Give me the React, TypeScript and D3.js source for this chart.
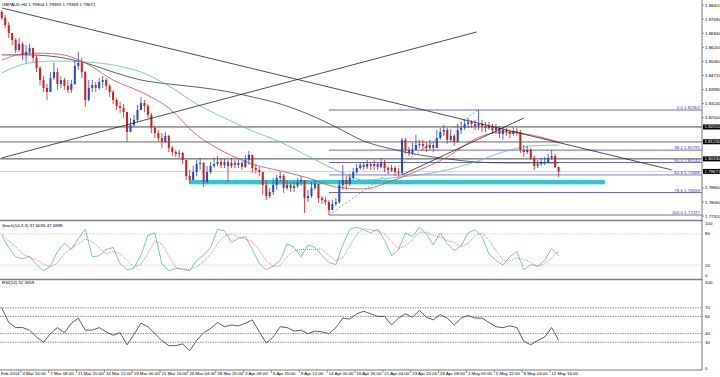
import React from 'react';
import * as d3 from 'd3';

const W = 720;
const H = 377;
const PR = 702;
const SLOTS = 201.7;
const FONT = "'Liberation Sans', Arial, sans-serif";
const FS = 4.4;

const titleText = 'GBPAUD,H4  1.79904 1.79933 1.79369 1.79671';
const stochTitle = 'Stoch(14,3,3) 37.6036 47.3898';
const rsiTitle = 'RSI(14) 32.3659';

const firstOpen = 1.8806;
const closes = [
  1.8774, 1.8737, 1.8695, 1.8659, 1.8606, 1.8638, 1.8580, 1.8596, 1.8617, 1.8564,
  1.8511, 1.8448, 1.8406, 1.8385, 1.8459, 1.8490, 1.8427, 1.8448, 1.8417, 1.8396,
  1.8427, 1.8522, 1.8538, 1.8490, 1.8343, 1.8406, 1.8422, 1.8406, 1.8438, 1.8448,
  1.8417, 1.8385, 1.8343, 1.8311, 1.8301, 1.8280, 1.8175, 1.8211, 1.8238, 1.8290,
  1.8327, 1.8311, 1.8264, 1.8196, 1.8169, 1.8143, 1.8122, 1.8154, 1.8091, 1.8069,
  1.8059, 1.8064, 1.8027, 1.7943, 1.7922, 1.7964, 1.8006, 1.8012, 1.7912, 1.7964,
  1.7996, 1.8006, 1.8017, 1.8001, 1.8017, 1.7996, 1.8012, 1.8001, 1.8012, 1.7991,
  1.8027, 1.8054, 1.7985, 1.7975, 1.7964, 1.7896, 1.7838, 1.7859, 1.7896, 1.7933,
  1.7943, 1.7880, 1.7896, 1.7880, 1.7891, 1.7912, 1.7922, 1.7827, 1.7838, 1.7880,
  1.7901, 1.7827, 1.7817, 1.7806, 1.7764, 1.7796, 1.7806, 1.7896, 1.7922, 1.7901,
  1.7933, 1.7964, 1.7985, 1.8001, 1.7991, 1.8006, 1.7996, 1.8006, 1.7991, 1.8012,
  1.7985, 1.7975, 1.7985, 1.7964, 1.7959, 1.8133, 1.8080, 1.8064, 1.8080, 1.8106,
  1.8112, 1.8101, 1.8091, 1.8106, 1.8091, 1.8143, 1.8175, 1.8185, 1.8133, 1.8154,
  1.8122, 1.8185, 1.8196, 1.8217, 1.8227, 1.8217, 1.8206, 1.8217, 1.8206, 1.8196,
  1.8206, 1.8185, 1.8196, 1.8164, 1.8185, 1.8175, 1.8164, 1.8180, 1.8175, 1.8080,
  1.8069, 1.8080, 1.8038, 1.7996, 1.8006, 1.8017, 1.8017, 1.8038, 1.8048, 1.7990,
  1.7967,
];
const highs = [
  1.8816, 1.8790, 1.8753, 1.8695, 1.8669, 1.8669, 1.8648, 1.8632, 1.8638, 1.8617,
  1.8580, 1.8522, 1.8469, 1.8427, 1.8490, 1.8538, 1.8511, 1.8469, 1.8459, 1.8448,
  1.8448, 1.8553, 1.8596, 1.8564, 1.8495, 1.8448, 1.8448, 1.8438, 1.8459, 1.8469,
  1.8459, 1.8427, 1.8396, 1.8354, 1.8333, 1.8322, 1.8280, 1.8248, 1.8264, 1.8317,
  1.8359, 1.8343, 1.8322, 1.8275, 1.8206, 1.8185, 1.8169, 1.8175, 1.8159, 1.8101,
  1.8080, 1.8080, 1.8069, 1.8027, 1.7975, 1.7996, 1.8027, 1.8038, 1.8015, 1.7996,
  1.8017, 1.8038, 1.8048, 1.8038, 1.8033, 1.8027, 1.8038, 1.8027, 1.8027, 1.8022,
  1.8054, 1.8075, 1.8054, 1.8001, 1.7991, 1.7964, 1.7922, 1.7880, 1.7933, 1.7949,
  1.7964, 1.7954, 1.7922, 1.7912, 1.7912, 1.7933, 1.7943, 1.7922, 1.7870, 1.7912,
  1.7922, 1.7901, 1.7838, 1.7833, 1.7817, 1.7817, 1.7827, 1.7922, 1.8001, 1.7943,
  1.7954, 1.7985, 1.8006, 1.8017, 1.8017, 1.8027, 1.8017, 1.8027, 1.8017, 1.8038,
  1.8027, 1.7996, 1.8001, 1.7996, 1.7985, 1.8143, 1.8143, 1.8096, 1.8117, 1.8159,
  1.8133, 1.8133, 1.8122, 1.8133, 1.8122, 1.8185, 1.8196, 1.8211, 1.8196, 1.8185,
  1.8164, 1.8217, 1.8227, 1.8238, 1.8248, 1.8238, 1.8238, 1.8290, 1.8238, 1.8227,
  1.8227, 1.8217, 1.8217, 1.8206, 1.8196, 1.8196, 1.8185, 1.8196, 1.8196, 1.8185,
  1.8106, 1.8101, 1.8091, 1.8048, 1.8027, 1.8038, 1.8043, 1.8059, 1.8080, 1.8059,
  1.7993,
];
const lows = [
  1.8764, 1.8722, 1.8669, 1.8632, 1.8590, 1.8596, 1.8553, 1.8538, 1.8580, 1.8543,
  1.8490, 1.8422, 1.8385, 1.8343, 1.8385, 1.8448, 1.8396, 1.8406, 1.8396, 1.8380,
  1.8380, 1.8422, 1.8501, 1.8459, 1.8306, 1.8335, 1.8385, 1.8385, 1.8396, 1.8406,
  1.8396, 1.8359, 1.8322, 1.8290, 1.8275, 1.8248, 1.8122, 1.8175, 1.8201, 1.8227,
  1.8290, 1.8280, 1.8248, 1.8169, 1.8143, 1.8122, 1.8091, 1.8117, 1.8069, 1.8048,
  1.8043, 1.8038, 1.8006, 1.7922, 1.7901, 1.7933, 1.7943, 1.7975, 1.7885, 1.7905,
  1.7954, 1.7985, 1.7996, 1.7985, 1.7985, 1.7912, 1.7985, 1.7985, 1.7985, 1.7975,
  1.7985, 1.8001, 1.7959, 1.7954, 1.7943, 1.7843, 1.7817, 1.7827, 1.7843, 1.7870,
  1.7912, 1.7854, 1.7870, 1.7859, 1.7859, 1.7880, 1.7891, 1.7749, 1.7806, 1.7827,
  1.7870, 1.7801, 1.7796, 1.7791, 1.7738, 1.7764, 1.7785, 1.7796, 1.7870, 1.7870,
  1.7891, 1.7922, 1.7954, 1.7975, 1.7975, 1.7980, 1.7975, 1.7975, 1.7975, 1.7985,
  1.7964, 1.7954, 1.7964, 1.7943, 1.7938, 1.7949, 1.8059, 1.8048, 1.8054, 1.8080,
  1.8091, 1.8080, 1.8069, 1.8080, 1.8069, 1.8091, 1.8133, 1.8154, 1.8112, 1.8122,
  1.8101, 1.8117, 1.8164, 1.8185, 1.8196, 1.8196, 1.8185, 1.8185, 1.8175, 1.8175,
  1.8185, 1.8164, 1.8164, 1.8143, 1.8133, 1.8154, 1.8143, 1.8154, 1.8154, 1.8064,
  1.8043, 1.8059, 1.8027, 1.7975, 1.7985, 1.7996, 1.8001, 1.8017, 1.8027, 1.7985,
  1.7937,
];

// moving averages sampled every 8 bars
const maIdx = [0, 8, 16, 24, 32, 40, 48, 56, 64, 72, 80, 88, 96, 104, 112, 120, 128, 136, 144, 152, 160];
const maRed = [1.8553, 1.8590, 1.8585, 1.8538, 1.8448, 1.8385, 1.8301, 1.8159, 1.8069, 1.8006, 1.7970, 1.7933, 1.7885, 1.7875, 1.7917, 1.7975, 1.8043, 1.8138, 1.8175, 1.8159, 1.8122];
const maTeal = [1.8485, 1.8538, 1.8548, 1.8543, 1.8527, 1.8490, 1.8417, 1.8322, 1.8248, 1.8180, 1.8122, 1.8048, 1.7975, 1.7922, 1.7933, 1.7949, 1.7975, 1.8017, 1.8069, 1.8101, 1.8106];
const maDark = [1.8580, 1.8580, 1.8569, 1.8538, 1.8490, 1.8448, 1.8427, 1.8411, 1.8390, 1.8359, 1.8322, 1.8269, 1.8201, 1.8127, 1.8085, 1.8054, 1.8033, 1.8017, 1.8012, 1.8012, 1.8012];

// trend lines [startIdx, startPrice, endIdx, endPrice]
const trendLines = [
  [0, 1.8827, 192.5, 1.7975],
  [0, 1.8038, 136.5, 1.8701],
  [115, 1.7949, 150, 1.8248],
];

// horizontal lines
const blackLevels = [1.8201, 1.8033];
const grayLevel = 1.8123;
const bidPrice = 1.79671;

// fibonacci
const fibHigh = 1.82902;
const fibLow = 1.77377;
const fibLowIdx = 94;
const fibHighIdx = 137;
const fibLevels = [0, 38.2, 50, 61.8, 78.6, 100];

// support zone
const zoneStartIdx = 54;
const zoneEndIdx = 173.3;
const zoneTop = 1.7922;
const zoneBottom = 1.7899;

const priceTicks = [1.7732, 1.7806, 1.7880, 1.7954, 1.8028, 1.8102, 1.8176, 1.8250, 1.8324, 1.8398, 1.8472, 1.8546, 1.8620, 1.8694, 1.8768, 1.8842];

const timeLabels = ['4 Mar 16:00', '7 Mar 08:00', '11 Mar 20:00', '14 Mar 12:00', '19 Mar 00:00', '21 Mar 16:00', '26 Mar 04:00', '28 Mar 20:00', '2 Apr 08:00', '6 Apr 20:00', '9 Apr 12:00', '14 Apr 00:00', '16 Apr 16:00', '21 Apr 04:00', '23 Apr 20:00', '28 Apr 08:00', '1 May 00:00', '5 May 12:00', '8 May 04:00', '12 May 16:00'];
const firstTimeLabel = 'Feb 2014';

// oscillators sampled every 2 bars
const stochMain = [77, 54, 36, 32, 37, 21, 9, 18, 46, 62, 50, 71, 89, 36, 38, 50, 54, 23, 11, 14, 39, 77, 82, 23, 9, 14, 12, 9, 29, 39, 54, 89, 86, 64, 71, 75, 50, 23, 11, 18, 29, 61, 54, 36, 59, 54, 39, 25, 21, 59, 89, 93, 88, 82, 89, 68, 38, 50, 82, 75, 93, 80, 59, 82, 61, 48, 57, 82, 88, 75, 41, 29, 20, 36, 46, 11, 21, 18, 29, 52, 37.6];
const stochSignal = [80, 66, 56, 41, 35, 30, 22, 16, 24, 42, 53, 61, 70, 65, 54, 41, 47, 42, 29, 16, 21, 43, 66, 61, 38, 15, 12, 12, 17, 26, 41, 61, 76, 80, 74, 70, 65, 49, 28, 17, 19, 36, 48, 50, 50, 50, 51, 39, 28, 35, 56, 80, 90, 88, 86, 80, 65, 52, 57, 69, 83, 83, 77, 74, 67, 64, 55, 62, 76, 82, 68, 48, 30, 28, 34, 31, 26, 17, 23, 33, 47.4];
const rsi = [70, 53, 47, 47, 44, 36, 30, 40, 47, 41, 52, 58, 44, 44, 47, 42, 38, 41, 27, 39, 52, 48, 40, 32, 26, 26, 28, 20, 32, 41, 46, 53, 48, 50, 49, 52, 56, 42, 29, 36, 48, 47, 43, 44, 40, 43, 42, 40, 47, 58, 57, 63, 66, 63, 60, 60, 50, 58, 63, 59, 67, 59, 56, 62, 58, 50, 58, 61, 58, 58, 53, 48, 47, 49, 47, 31, 27, 32, 36, 47, 32.4];
const stochLevels = [80, 20];
const rsiLevels = [70, 60, 40, 30];

export default function App() {
  const x = d3.scaleLinear().domain([0, SLOTS]).range([0, PR]);
  const yP = d3.scaleLinear().domain([1.77114, 1.8869]).range([220, 0]);
  const yS = d3.scaleLinear().domain([0, 100]).range([275.5, 223.5]);
  const yR = d3.scaleLinear().domain([0, 100]).range([368, 282]);
  const cx = (i: number) => x(i + 0.5);

  const maLine = d3.line<number>()
    .x((_, k) => cx(maIdx[k]))
    .y((d) => yP(d))
    .curve(d3.curveMonotoneX);
  const oscLine = (scale: d3.ScaleLinear<number, number>) =>
    d3.line<number>().x((_, k) => cx(k * 2)).y((d) => scale(d));

  const candles = closes.map((c, i) => {
    const o = i === 0 ? firstOpen : closes[i - 1];
    const h = Math.max(highs[i], o, c);
    const l = Math.min(lows[i], o, c);
    return { i, o, c, h, l };
  });

  const fibX0 = cx(fibLowIdx);
  const fibPrice = (lv: number) => fibHigh - (fibHigh - fibLow) * lv / 100;

  const marked = [...blackLevels, grayLevel, bidPrice];
  const visibleTicks = priceTicks.filter((p) => marked.every((m) => Math.abs(yP(p) - yP(m)) > 5.5));

  const txt = (props: any, s: string) => (
    <text fontFamily={FONT} fontSize={FS} {...props}>{s}</text>
  );

  return (
    <svg width={W} height={H} style={{ position: 'absolute', left: 0, top: 0, background: '#fff' }}>
      <rect x={0} y={0} width={W} height={H} fill="#fff" />
      {/* support zone */}
      <rect x={cx(zoneStartIdx)} y={yP(zoneTop)} width={cx(zoneEndIdx) - cx(zoneStartIdx)}
        height={yP(zoneBottom) - yP(zoneTop)} fill="#2ec8cc" />
      {/* horizontal lines */}
      {blackLevels.map((p, k) => (
        <line key={'bl' + k} x1={0} x2={PR} y1={yP(p)} y2={yP(p)} stroke="#333" strokeWidth={0.9} />
      ))}
      <line x1={0} x2={PR} y1={yP(grayLevel)} y2={yP(grayLevel)} stroke="#a8a8a8" strokeWidth={1.8} />
      <line x1={0} x2={PR} y1={yP(bidPrice)} y2={yP(bidPrice)} stroke="#c8c8c8" strokeWidth={0.8} />
      {/* fib levels */}
      {fibLevels.map((lv) => (
        <line key={'f' + lv} x1={fibX0} x2={PR} y1={yP(fibPrice(lv))} y2={yP(fibPrice(lv))}
          stroke={lv === 61.8 ? '#b4b4e4' : '#5a5aa8'} strokeWidth={lv === 61.8 ? 1.8 : 0.9} />
      ))}
      <line x1={cx(fibLowIdx)} y1={yP(fibLow)} x2={cx(fibHighIdx)} y2={yP(fibHigh)}
        stroke="#777" strokeWidth={0.7} strokeDasharray="2,2" />
      {/* moving averages */}
      <path d={maLine(maDark) || ''} fill="none" stroke="#3a3a3a" strokeWidth={0.8} />
      <path d={maLine(maTeal) || ''} fill="none" stroke="#5fb8c0" strokeWidth={0.8} />
      <path d={maLine(maRed) || ''} fill="none" stroke="#c85050" strokeWidth={0.8} />
      {/* candles */}
      {candles.map((d) => {
        const up = d.c >= d.o;
        const col = up ? '#2846c4' : '#cc2020';
        const xc = cx(d.i);
        const yt = yP(Math.max(d.o, d.c));
        const yb = yP(Math.min(d.o, d.c));
        return (
          <g key={'c' + d.i}>
            <line x1={xc} x2={xc} y1={yP(d.h)} y2={yP(d.l)} stroke={col} strokeWidth={0.8} />
            <rect x={xc - 1} y={yt} width={2} height={Math.max(0.8, yb - yt)} fill={col} />
          </g>
        );
      })}
      {/* trend lines */}
      {trendLines.map((t, k) => (
        <line key={'t' + k} x1={cx(t[0])} y1={yP(t[1])} x2={cx(t[2])} y2={yP(t[3])}
          stroke="#222" strokeWidth={0.8} />
      ))}
      {/* fib labels */}
      {fibLevels.map((lv) => txt({ key: 'fl' + lv, x: PR - 2, y: yP(fibPrice(lv)) - 1, textAnchor: 'end', fill: '#3a3aa0' },
        `${lv.toFixed(1)} ${fibPrice(lv).toFixed(5)}`))}
      {/* title */}
      {txt({ x: 2, y: 6, fill: '#000' }, titleText)}

      {/* stochastic */}
      {stochLevels.map((lv) => (
        <line key={'sl' + lv} x1={0} x2={PR} y1={yS(lv)} y2={yS(lv)} stroke="#bbb" strokeWidth={0.7} strokeDasharray="1.5,1.5" />
      ))}
      <path d={oscLine(yS)(stochMain) || ''} fill="none" stroke="#58b8b0" strokeWidth={0.8} />
      <path d={oscLine(yS)(stochSignal) || ''} fill="none" stroke="#b05050" strokeWidth={0.7} strokeDasharray="1,1" />
      {txt({ x: 2, y: 227, fill: '#000' }, stochTitle)}

      {/* rsi */}
      {rsiLevels.map((lv) => (
        <line key={'rl' + lv} x1={0} x2={PR} y1={yR(lv)} y2={yR(lv)} stroke="#444" strokeWidth={0.6} strokeDasharray="1.5,1" />
      ))}
      <path d={oscLine(yR)(rsi) || ''} fill="none" stroke="#333" strokeWidth={0.8} />
      {txt({ x: 2, y: 284, fill: '#000' }, rsiTitle)}

      {/* separators and frame */}
      <line x1={0} x2={PR} y1={220.5} y2={220.5} stroke="#808080" strokeWidth={1.6} />
      <line x1={0} x2={PR} y1={279.5} y2={279.5} stroke="#808080" strokeWidth={1.6} />
      <line x1={PR} x2={PR} y1={0} y2={370} stroke="#555" strokeWidth={0.8} />
      <line x1={0} x2={PR} y1={370} y2={370} stroke="#555" strokeWidth={0.8} />

      {/* price axis */}
      {visibleTicks.map((p) => (
        <g key={'pt' + p}>
          <line x1={PR} x2={PR + 2} y1={yP(p)} y2={yP(p)} stroke="#555" strokeWidth={0.6} />
          {txt({ x: PR + 3, y: yP(p) + 1.5, fill: '#000' }, p.toFixed(5))}
        </g>
      ))}
      {marked.map((p) => (
        <g key={'hl' + p}>
          <rect x={PR + 1} y={yP(p) - 2.5} width={17} height={5} fill="#000" />
          {txt({ x: PR + 2.5, y: yP(p) + 1.5, fill: '#fff' }, p.toFixed(5))}
        </g>
      ))}
      {/* stochastic axis */}
      {[100, 80, 20, 0].map((v) => txt({ key: 'sa' + v, x: PR + 3, y: yS(v) + 1.5, fill: '#000' }, String(v)))}
      {/* rsi axis */}
      {[100, 70, 60, 40, 30, 0].map((v) => txt({ key: 'ra' + v, x: PR + 3, y: yR(v) + 1.5, fill: '#000' }, String(v)))}

      {/* time axis */}
      {txt({ x: 1, y: 375, fill: '#000' }, firstTimeLabel)}
      {timeLabels.map((s, k) => {
        const xi = x(6 + 8 * k);
        return (
          <g key={'tl' + k}>
            <line x1={xi} x2={xi} y1={370} y2={373} stroke="#555" strokeWidth={0.6} />
            {txt({ x: xi + 1.5, y: 375, fill: '#000' }, s)}
          </g>
        );
      })}
    </svg>
  );
}
